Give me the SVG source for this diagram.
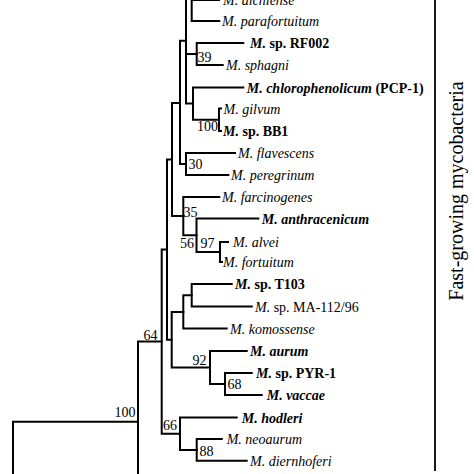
<svg xmlns="http://www.w3.org/2000/svg" width="474" height="474" viewBox="0 0 474 474">
<style>
.br{fill:none;stroke:#000;stroke-width:2;stroke-linecap:square}
.t{font-family:"Liberation Serif","Times New Roman",serif;font-size:14px;fill:#000}
.i{font-style:italic}
.b{font-weight:bold}
.bs{font-family:"Liberation Serif","Times New Roman",serif;font-size:14px;fill:#000}
.side{font-family:"Liberation Serif","Times New Roman",serif;font-size:20px;fill:#000}
</style>
<rect width="474" height="474" fill="#fff"/>
<g id="connectors" class="br">
<path d="M13,480V421.7H138M138,480V341.6H161.7"/>
<path d="M161.7,249.6V433.7M161.7,249.6H167M161.7,433.7H180"/>
<path d="M167,159.5V339.7M167,159.5H172M167,339.7H171.7"/>
<path d="M172,103V216M172,103H180M172,216H183.3"/>
<path d="M180,40.7V164M180,40.7H186M180,164H186"/>
<path d="M186,-5V103.6M186,54H196.7M186,103.6H193"/>
<path d="M191.7,-5V21M191.7,0H219M191.7,21H219.3"/>
<path d="M196.7,43V65M196.7,43H243.3M196.7,65H222.7"/>
<path d="M193,87.5V119.7M193,87.5H243.3M193,119.7H219"/>
<path d="M219,108.5V131M219,108.5H221M219,131H221"/>
<path d="M186,153V175M186,153H235M186,175H228.3"/>
<path d="M183.3,197V235.2M183.3,197H219.3M183.3,235.2H196.5"/>
<path d="M196.5,218.5V252M196.5,218.5H258.3M196.5,252H220"/>
<path d="M220,242V262M220,242H228M220,262H222"/>
<path d="M171.7,311.9V367.5M171.7,311.9H183.3M171.7,367.5H210"/>
<path d="M183.3,295.2V328.5M183.3,295.2H191.7M183.3,328.5H226.7"/>
<path d="M191.7,284V306.5M191.7,284H231.7M191.7,306.5H251.7"/>
<path d="M210,351V384M210,351H246.7M210,384H225"/>
<path d="M225,373V395M225,373H251.7M225,395H261.7"/>
<path d="M180,417.5V449.9M180,417.5H236.7M180,449.9H196.7"/>
<path d="M196.7,439V460.7M196.7,439H221.7M196.7,460.7H246.7"/>
<path d="M435,-5V470" style="stroke-width:1.8"/>
</g>
<g id="taxa">
<g id="aichiense"><text class="t i" x="223" y="5">M. aichiense</text></g>
<g id="parafortuitum"><text class="t i" x="222" y="26">M. parafortuitum</text></g>
<g id="RF002"><text class="t b" x="250" y="48"><tspan class="i">M.</tspan> sp. RF002</text></g>
<g id="sphagni"><text class="t i" x="226" y="70">M. sphagni</text></g>
<g id="chlorophenolicum"><text class="t b" x="246.7" y="92.5"><tspan class="i">M. chlorophenolicum</tspan> (PCP-1)</text></g>
<g id="gilvum"><text class="t i" x="223.5" y="113.5">M. gilvum</text></g>
<g id="BB1"><text class="t b" x="223" y="136"><tspan class="i">M.</tspan> sp. BB1</text></g>
<g id="flavescens"><text class="t i" x="238" y="158">M. flavescens</text></g>
<g id="peregrinum"><text class="t i" x="231" y="180">M. peregrinum</text></g>
<g id="farcinogenes"><text class="t i" x="222" y="202">M. farcinogenes</text></g>
<g id="anthracenicum"><text class="t b i" x="261.7" y="223.5">M. anthracenicum</text></g>
<g id="alvei"><text class="t i" x="233" y="247">M. alvei</text></g>
<g id="fortuitum"><text class="t i" x="223" y="267">M. fortuitum</text></g>
<g id="T103"><text class="t b" x="235" y="289"><tspan class="i">M.</tspan> sp. T103</text></g>
<g id="MA-112"><text class="t" x="255" y="311.5"><tspan class="i">M.</tspan> sp. MA-112/96</text></g>
<g id="komossense"><text class="t i" x="230" y="333.5">M. komossense</text></g>
<g id="aurum"><text class="t b i" x="250" y="356">M. aurum</text></g>
<g id="PYR-1"><text class="t b" x="256" y="378"><tspan class="i">M.</tspan> sp. PYR-1</text></g>
<g id="vaccae"><text class="t b i" x="266.7" y="400">M. vaccae</text></g>
<g id="hodleri"><text class="t b i" x="241.7" y="422.5">M. hodleri</text></g>
<g id="neoaurum"><text class="t i" x="226.7" y="444">M. neoaurum</text></g>
<g id="diernhoferi"><text class="t i" x="250" y="465.7">M. diernhoferi</text></g>
</g>
<g id="bootstrap">
<text class="bs" x="197.5" y="61.5">39</text>
<text class="bs" x="197" y="130.7">100</text>
<text class="bs" x="188.5" y="169">30</text>
<text class="bs" x="183.5" y="216.5">35</text>
<text class="bs" x="180" y="248">56</text>
<text class="bs" x="200.5" y="248">97</text>
<text class="bs" x="143.5" y="339.5">64</text>
<text class="bs" x="114.5" y="416.5">100</text>
<text class="bs" x="192.5" y="365">92</text>
<text class="bs" x="227.5" y="389">68</text>
<text class="bs" x="163" y="430">66</text>
<text class="bs" x="199.5" y="456">88</text>
</g>
<g id="clade-label"><text class="side" transform="translate(463,191) rotate(-90)" text-anchor="middle">Fast-growing mycobacteria</text></g>
</svg>
